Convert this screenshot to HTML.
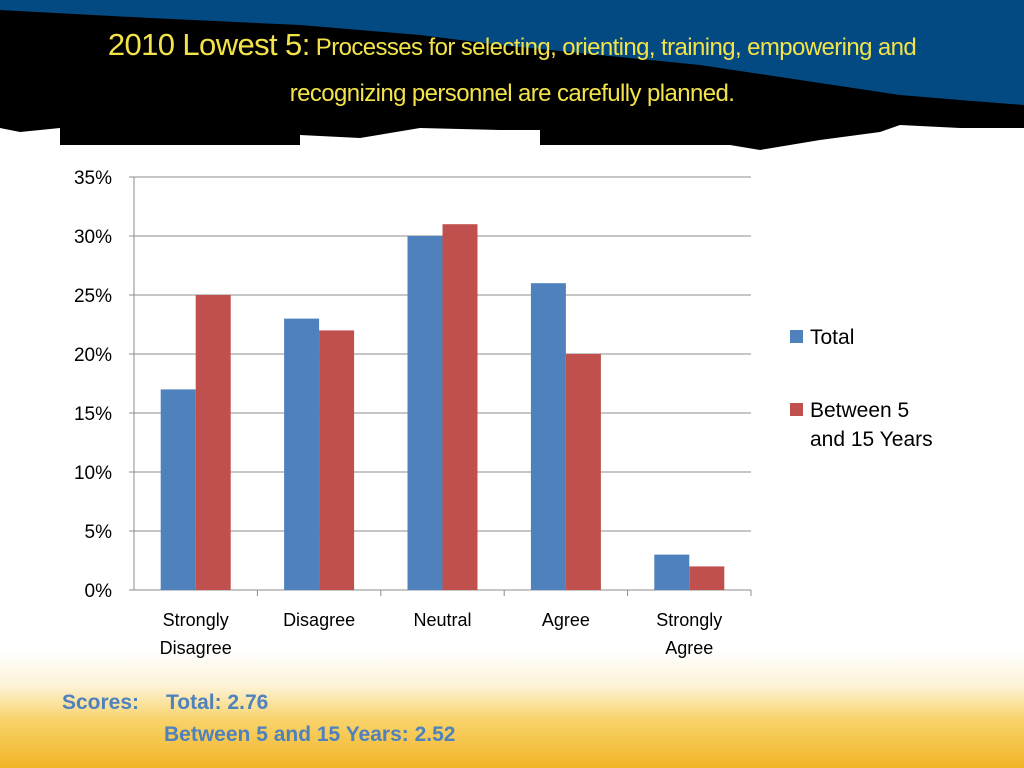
<!DOCTYPE html>
<html><head><meta charset="utf-8"><style>
body{margin:0;width:1024px;height:768px;overflow:hidden;font-family:"Liberation Sans",sans-serif;background:#fff;position:relative}
.bg{position:absolute;left:0;top:0;width:1024px;height:768px}
.t{position:absolute;color:#f2e34a;white-space:nowrap;text-align:center;left:0;width:1024px}
.sc{position:absolute;color:#4f81bd;font-weight:bold;font-size:21px;white-space:nowrap}
</style></head><body>
<div class="bg" style="background:linear-gradient(to bottom,#fff 0,#fff 650px,#fdf3d8 685px,#f8d36a 720px,#f1b426 768px)"></div>
<svg class="bg" width="1024" height="160">
<polygon fill="#034a82" points="0,0 1024,0 1024,125 0,125"/>
<polygon fill="#000" points="0,10 150,18 300,25 420,35 500,45 600,55 700,65 800,80 900,95 960,100 1024,105 1024,128 960,128 900,125 880,132 820,140 760,150 700,140 640,135 580,130 500,130 420,128 360,138 300,135 240,142 200,138 150,132 120,140 60,128 20,132 0,128"/>
<rect x="60" y="120" width="240" height="25" fill="#000"/>
<rect x="540" y="125" width="230" height="20" fill="#000"/>
</svg>
<div class="t" style="top:27px;font-size:24px;letter-spacing:-0.6px"><span style="font-size:31px">2010 Lowest 5:</span> Processes for selecting, orienting, training, empowering and</div>
<div class="t" style="top:80px;font-size:24px;letter-spacing:-0.6px;left:0">recognizing personnel are carefully planned.</div>
<svg id="chart" class="bg" width="1024" height="768"></svg>
<div class="sc" style="left:62px;top:691px">Scores:</div>
<div class="sc" style="left:166px;top:691px">Total: 2.76</div>
<div class="sc" style="left:164px;top:723px">Between 5 and 15 Years: 2.52</div>
<script>
const categories=[["Strongly","Disagree"],["Disagree"],["Neutral"],["Agree"],["Strongly","Agree"]];
const totalVals=[17,23,30,26,3];
const betweenVals=[25,22,31,20,2];
const ticks=[0,5,10,15,20,25,30,35];
const svg=document.getElementById('chart');
const NS='http://www.w3.org/2000/svg';
const x0=134,x1=751,y0=590,y1=177,maxV=35;
const y=v=>y0-(v/maxV)*(y0-y1);
const bw=(x1-x0)/categories.length;
function mk(t,a){const e=document.createElementNS(NS,t);for(const k in a)e.setAttribute(k,a[k]);svg.appendChild(e);return e;}
ticks.forEach(v=>{
 const l=mk('line',{x1:x0-5,x2:x1,y1:y(v),y2:y(v),stroke:'#8c8c8c','stroke-width':1});
 
 
 const t=mk('text',{x:x0-22,y:y(v)+7,'text-anchor':'end','font-size':19,fill:'#000'});
 t.textContent=v+'%';
 
 
});
const ax=mk('line',{x1:x0,x2:x0,y1:y1,y2:y0,stroke:'#8c8c8c'});


categories.forEach((c,i)=>{
 const cx=x0+bw*(i+0.5);
 const tk=mk('line',{x1:x0+bw*(i+1),x2:x0+bw*(i+1),y1:y0,y2:y0+6,stroke:'#8c8c8c'});
 
 
 const b1=mk('rect',{x:cx-35,y:y(totalVals[i]),width:35,height:y0-y(totalVals[i]),fill:'#4f81bd'});
 
 
 const b2=mk('rect',{x:cx,y:y(betweenVals[i]),width:35,height:y0-y(betweenVals[i]),fill:'#c0504d'});
 
 
 c.forEach((ln,j)=>{
  const t=mk('text',{x:cx,y:626+j*28,'text-anchor':'middle','font-size':18,fill:'#000'});
  t.textContent=ln;
  
  
 });
});
const legend=[["#4f81bd",["Total"],337],["#c0504d",["Between 5","and 15 Years"],410]];
legend.forEach(([col,lines,ly])=>{
 const r=mk('rect',{x:790,y:ly-7,width:13,height:13,fill:col});
 
 
 lines.forEach((ln,j)=>{
  const t=mk('text',{x:810,y:ly+7+j*29,'font-size':21,fill:'#000'});
  t.textContent=ln;
  
  
 });
});
</script>
</body></html>
